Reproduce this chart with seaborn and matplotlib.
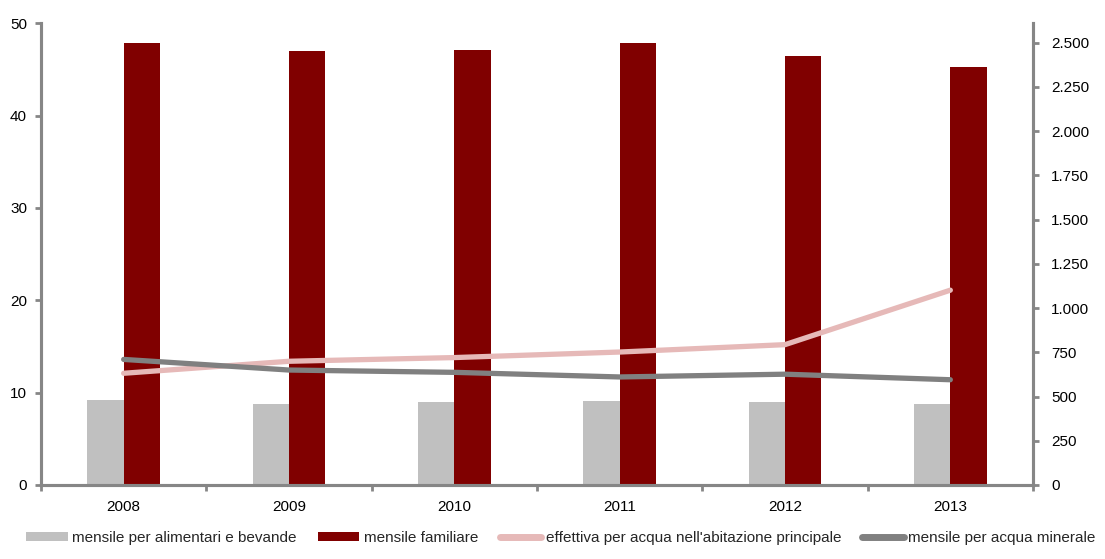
import matplotlib
matplotlib.use("Agg")
import matplotlib.pyplot as plt
import seaborn as sns
import pandas as pd
import numpy as np
from matplotlib.lines import Line2D
from matplotlib.patches import Patch
from matplotlib.ticker import FuncFormatter, FixedLocator

# ---- data ----
years = ["2008", "2009", "2010", "2011", "2012", "2013"]
food_spend = [478, 460, 467, 477, 467, 457]          # mensile per alimentari e bevande (right axis)
family_spend = [2498, 2453, 2459, 2498, 2425, 2363]  # mensile familiare (right axis)
water_home = [12.1, 13.4, 13.8, 14.4, 15.2, 21.1]    # effettiva per acqua nell'abitazione principale (left axis)
water_mineral = [13.6, 12.45, 12.2, 11.7, 12.0, 11.4]  # mensile per acqua minerale (left axis)

lab_food = "mensile per alimentari e bevande"
lab_family = "mensile familiare"
lab_home = "effettiva per acqua nell'abitazione principale"
lab_min = "mensile per acqua minerale"

c_food = "#C0C0C0"
c_family = "#800000"
c_home = "#E6B9B8"
c_min = "#808080"
c_axis = "#868686"

sns.set_theme(style="white")
plt.rcParams["font.family"] = ["Liberation Sans", "DejaVu Sans"]

fig = plt.figure(figsize=(11.05, 5.59), dpi=100)
ax = fig.add_axes([41 / 1105, 1 - 485 / 559, (1033 - 41) / 1105, (485 - 23.3) / 559])

bars_df = pd.DataFrame({
    "year": years * 2,
    "value": food_spend + family_spend,
    "serie": [lab_food] * len(years) + [lab_family] * len(years),
})
sns.barplot(data=bars_df, x="year", y="value", hue="serie", order=years,
            hue_order=[lab_food, lab_family], palette=[c_food, c_family],
            width=0.44, ax=ax, legend=False, saturation=1, linewidth=0)

ax2 = ax.twinx()
idx = np.arange(len(years))
lines_df = pd.DataFrame({
    "x": np.concatenate([idx, idx]),
    "value": water_home + water_mineral,
    "serie": [lab_home] * len(years) + [lab_min] * len(years),
})
sns.lineplot(data=lines_df, x="x", y="value", hue="serie",
             hue_order=[lab_home, lab_min], palette=[c_home, c_min],
             linewidth=3.8, ax=ax2, legend=False)
for ln in ax2.get_lines():
    ln.set_solid_capstyle("round")
    ln.set_solid_joinstyle("round")

# right axis (bars)
ax.set_xlim(-0.5, len(years) - 0.5)
ax.set_ylim(0, 2610)
ax.set_yticks(np.arange(0, 2501, 250))
ax.yaxis.set_major_formatter(FuncFormatter(lambda v, p: f"{int(v):,}".replace(",", ".")))
ax.set_xlabel("")
ax.set_ylabel("")
ax.tick_params(axis="y", which="major", left=False, labelleft=False, right=True, labelright=True,
               direction="out", length=4, width=2, color=c_axis, labelsize=11, pad=9,
               labelcolor="black")

# left axis (lines)
ax2.set_ylim(0, 50)
ax2.set_xlim(-0.5, len(years) - 0.5)
ax2.set_yticks(np.arange(0, 51, 10))
ax2.set_xlabel("")
ax2.set_ylabel("")
ax2.tick_params(axis="y", which="major", left=True, labelleft=True, right=False, labelright=False,
                direction="out", length=4, width=2, color=c_axis, labelsize=11, pad=6,
                labelcolor="black")
ax2.tick_params(axis="x", which="both", bottom=False, labelbottom=False)

# spines
for a in (ax, ax2):
    a.spines["top"].set_visible(False)
    for s in ("left", "right", "bottom"):
        a.spines[s].set_color(c_axis)
        a.spines[s].set_linewidth(2.2)
    a.grid(False)

# x ticks
ax.tick_params(axis="x", which="major", length=0, labelsize=11, pad=11, labelcolor="black")
ax.xaxis.set_minor_locator(FixedLocator(np.arange(-0.5, len(years), 1.0)))
ax.tick_params(axis="x", which="minor", bottom=True, length=4, width=2, color=c_axis, direction="out")

# legend
handles = [
    Patch(facecolor=c_food, edgecolor="none"),
    Patch(facecolor=c_family, edgecolor="none"),
    Line2D([], [], color=c_home, lw=5, solid_capstyle="round"),
    Line2D([], [], color=c_min, lw=5, solid_capstyle="round"),
]
labels = [lab_food, lab_family, lab_home, lab_min]
fig.legend(handles, labels, loc="center", bbox_to_anchor=(561 / 1105, 1 - 538 / 559),
           ncol=4, frameon=False, fontsize=11, handlelength=2.7, handleheight=0.55,
           handletextpad=0.3, columnspacing=1.4, borderpad=0, borderaxespad=0)

fig.savefig("out.png", dpi=100)
